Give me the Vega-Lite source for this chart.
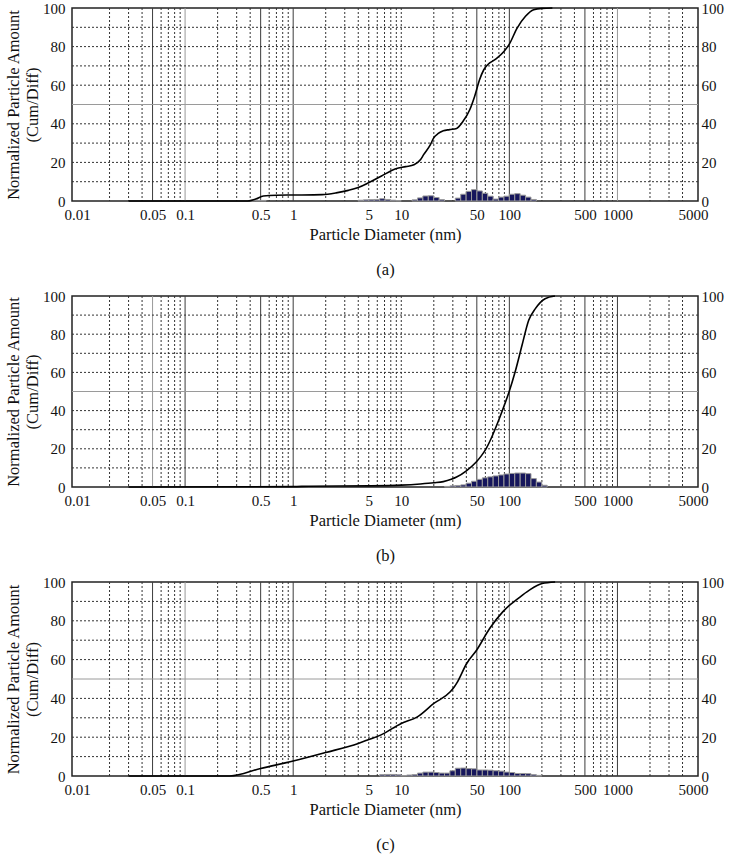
{
  "$schema": "https://vega.github.io/schema/vega-lite/v6.json",
  "padding": {"left": 4, "top": 0, "right": 0, "bottom": 0},
  "background": "white",
  "spacing": 9,
  "config": {
    "view": {"stroke": "#222", "strokeWidth": 1.5},
    "font": "Liberation Serif",
    "axis": {
      "labelFont": "Liberation Serif", "titleFont": "Liberation Serif",
      "labelFontSize": 15, "titleFontSize": 16.5, "titleFontWeight": "normal",
      "labelColor": "#111", "titleColor": "#111",
      "ticks": false, "domain": false, "grid": false
    }
  },
  "datasets": {
    "vgrid_a": [
      {"v": 0.02, "kind": "minor"}, {"v": 0.03, "kind": "minor"}, {"v": 0.04, "kind": "minor"}, {"v": 0.06, "kind": "minor"}, {"v": 0.07, "kind": "minor"}, {"v": 0.08, "kind": "minor"}, {"v": 0.09, "kind": "minor"},
      {"v": 0.2, "kind": "minor"}, {"v": 0.3, "kind": "minor"}, {"v": 0.4, "kind": "minor"}, {"v": 0.6, "kind": "minor"}, {"v": 0.7, "kind": "minor"}, {"v": 0.8, "kind": "minor"}, {"v": 0.9, "kind": "minor"},
      {"v": 2, "kind": "minor"}, {"v": 3, "kind": "minor"}, {"v": 4, "kind": "minor"}, {"v": 5, "kind": "minor"}, {"v": 6, "kind": "minor"}, {"v": 7, "kind": "minor"}, {"v": 8, "kind": "minor"}, {"v": 9, "kind": "minor"}, {"v": 10, "kind": "minor"},
      {"v": 20, "kind": "minor"}, {"v": 30, "kind": "minor"}, {"v": 40, "kind": "minor"}, {"v": 60, "kind": "minor"}, {"v": 70, "kind": "minor"}, {"v": 80, "kind": "minor"}, {"v": 90, "kind": "minor"},
      {"v": 200, "kind": "minor"}, {"v": 300, "kind": "minor"}, {"v": 400, "kind": "minor"}, {"v": 600, "kind": "minor"}, {"v": 700, "kind": "minor"}, {"v": 800, "kind": "minor"}, {"v": 900, "kind": "minor"},
      {"v": 2000, "kind": "minor"}, {"v": 3000, "kind": "minor"}, {"v": 4000, "kind": "minor"},
      {"v": 0.05, "kind": "dark"}, {"v": 0.1, "kind": "light"}, {"v": 0.5, "kind": "dark"}, {"v": 1, "kind": "dark"}, {"v": 50, "kind": "dark"}, {"v": 100, "kind": "dark"}, {"v": 500, "kind": "dark"}, {"v": 1000, "kind": "light"}
    ],
    "vgrid_b": [
      {"v": 0.02, "kind": "minor"}, {"v": 0.03, "kind": "minor"}, {"v": 0.04, "kind": "minor"}, {"v": 0.06, "kind": "minor"}, {"v": 0.07, "kind": "minor"}, {"v": 0.08, "kind": "minor"}, {"v": 0.09, "kind": "minor"},
      {"v": 0.2, "kind": "minor"}, {"v": 0.3, "kind": "minor"}, {"v": 0.4, "kind": "minor"}, {"v": 0.6, "kind": "minor"}, {"v": 0.7, "kind": "minor"}, {"v": 0.8, "kind": "minor"}, {"v": 0.9, "kind": "minor"},
      {"v": 2, "kind": "minor"}, {"v": 3, "kind": "minor"}, {"v": 4, "kind": "minor"}, {"v": 5, "kind": "minor"}, {"v": 6, "kind": "minor"}, {"v": 7, "kind": "minor"}, {"v": 8, "kind": "minor"}, {"v": 9, "kind": "minor"}, {"v": 10, "kind": "minor"},
      {"v": 20, "kind": "minor"}, {"v": 30, "kind": "minor"}, {"v": 40, "kind": "minor"}, {"v": 60, "kind": "minor"}, {"v": 70, "kind": "minor"}, {"v": 80, "kind": "minor"}, {"v": 90, "kind": "minor"},
      {"v": 200, "kind": "minor"}, {"v": 300, "kind": "minor"}, {"v": 400, "kind": "minor"}, {"v": 600, "kind": "minor"}, {"v": 700, "kind": "minor"}, {"v": 800, "kind": "minor"}, {"v": 900, "kind": "minor"},
      {"v": 2000, "kind": "minor"}, {"v": 3000, "kind": "minor"}, {"v": 4000, "kind": "minor"},
      {"v": 0.05, "kind": "light"}, {"v": 0.1, "kind": "dark"}, {"v": 0.5, "kind": "dark"}, {"v": 1, "kind": "dark"}, {"v": 50, "kind": "dark"}, {"v": 100, "kind": "dark"}, {"v": 500, "kind": "dark"}, {"v": 1000, "kind": "dark"}
    ],
    "vgrid_c": [
      {"v": 0.02, "kind": "minor"}, {"v": 0.03, "kind": "minor"}, {"v": 0.04, "kind": "minor"}, {"v": 0.06, "kind": "minor"}, {"v": 0.07, "kind": "minor"}, {"v": 0.08, "kind": "minor"}, {"v": 0.09, "kind": "minor"},
      {"v": 0.2, "kind": "minor"}, {"v": 0.3, "kind": "minor"}, {"v": 0.4, "kind": "minor"}, {"v": 0.6, "kind": "minor"}, {"v": 0.7, "kind": "minor"}, {"v": 0.8, "kind": "minor"}, {"v": 0.9, "kind": "minor"},
      {"v": 2, "kind": "minor"}, {"v": 3, "kind": "minor"}, {"v": 4, "kind": "minor"}, {"v": 5, "kind": "minor"}, {"v": 6, "kind": "minor"}, {"v": 7, "kind": "minor"}, {"v": 8, "kind": "minor"}, {"v": 9, "kind": "minor"}, {"v": 10, "kind": "minor"},
      {"v": 20, "kind": "minor"}, {"v": 30, "kind": "minor"}, {"v": 40, "kind": "minor"}, {"v": 60, "kind": "minor"}, {"v": 70, "kind": "minor"}, {"v": 80, "kind": "minor"}, {"v": 90, "kind": "minor"},
      {"v": 200, "kind": "minor"}, {"v": 300, "kind": "minor"}, {"v": 400, "kind": "minor"}, {"v": 600, "kind": "minor"}, {"v": 700, "kind": "minor"}, {"v": 800, "kind": "minor"}, {"v": 900, "kind": "minor"},
      {"v": 2000, "kind": "minor"}, {"v": 3000, "kind": "minor"}, {"v": 4000, "kind": "minor"},
      {"v": 0.05, "kind": "dark"}, {"v": 0.1, "kind": "light"}, {"v": 0.5, "kind": "dark"}, {"v": 1, "kind": "dark"}, {"v": 50, "kind": "dark"}, {"v": 100, "kind": "light"}, {"v": 500, "kind": "dark"}, {"v": 1000, "kind": "dark"}
    ],
    "hgrid": [
      {"h": 10, "kind": "minor"}, {"h": 20, "kind": "minor"}, {"h": 30, "kind": "minor"}, {"h": 40, "kind": "minor"},
      {"h": 50, "kind": "light"}, {"h": 60, "kind": "minor"}, {"h": 70, "kind": "minor"}, {"h": 80, "kind": "minor"}, {"h": 90, "kind": "minor"}
    ],
    "cum_a": [
      {"d": 0.03, "cum": 0}, {"d": 0.38, "cum": 0}, {"d": 0.45, "cum": 1.0}, {"d": 0.53, "cum": 2.6}, {"d": 0.7, "cum": 3.0},
      {"d": 1.0, "cum": 3.1}, {"d": 1.85, "cum": 3.3}, {"d": 2.5, "cum": 4.2}, {"d": 3.24, "cum": 5.5}, {"d": 4.0, "cum": 7.0},
      {"d": 4.93, "cum": 9.3}, {"d": 6.5, "cum": 12.8}, {"d": 8.9, "cum": 16.7}, {"d": 11, "cum": 17.8}, {"d": 13.1, "cum": 18.8},
      {"d": 15.1, "cum": 21.5}, {"d": 16.1, "cum": 24}, {"d": 18.6, "cum": 29.2}, {"d": 19.9, "cum": 32.6}, {"d": 22, "cum": 35},
      {"d": 24.5, "cum": 36.4}, {"d": 28, "cum": 37}, {"d": 32.5, "cum": 37.6}, {"d": 37.3, "cum": 41.3}, {"d": 43, "cum": 47.3},
      {"d": 47.7, "cum": 54.2}, {"d": 53, "cum": 62.8}, {"d": 58, "cum": 68}, {"d": 63, "cum": 70.6}, {"d": 75.2, "cum": 73.6},
      {"d": 89.5, "cum": 77.6}, {"d": 99.3, "cum": 81}, {"d": 118, "cum": 89.6}, {"d": 141, "cum": 95.7}, {"d": 168, "cum": 99.1},
      {"d": 200, "cum": 99.8}, {"d": 250, "cum": 100}
    ],
    "cum_b": [
      {"d": 0.03, "cum": 0}, {"d": 1.0, "cum": 0.2}, {"d": 1.4, "cum": 0.4}, {"d": 5, "cum": 0.6}, {"d": 10, "cum": 1.0},
      {"d": 15, "cum": 1.6}, {"d": 20, "cum": 2.2}, {"d": 24.5, "cum": 2.8}, {"d": 29, "cum": 4.0}, {"d": 32.5, "cum": 5.2},
      {"d": 40, "cum": 8.5}, {"d": 49.4, "cum": 13.1}, {"d": 55, "cum": 16.3}, {"d": 61, "cum": 20.1}, {"d": 68, "cum": 25.5},
      {"d": 75.2, "cum": 31.4}, {"d": 86.4, "cum": 40.2}, {"d": 99.3, "cum": 49.7}, {"d": 114, "cum": 61}, {"d": 131, "cum": 74.2},
      {"d": 151, "cum": 87.3}, {"d": 174, "cum": 93.4}, {"d": 214, "cum": 98.6}, {"d": 264, "cum": 100}
    ],
    "cum_c": [
      {"d": 0.03, "cum": 0}, {"d": 0.26, "cum": 0}, {"d": 0.5, "cum": 3.9}, {"d": 1.0, "cum": 7.7}, {"d": 2.0, "cum": 12.1},
      {"d": 4.0, "cum": 16.8}, {"d": 5.0, "cum": 18.8}, {"d": 6.5, "cum": 21.2}, {"d": 10, "cum": 27.1}, {"d": 14.1, "cum": 30.5},
      {"d": 20, "cum": 37.4}, {"d": 28.4, "cum": 43.4}, {"d": 31, "cum": 46}, {"d": 32.7, "cum": 48}, {"d": 40.3, "cum": 58},
      {"d": 49.7, "cum": 64.8}, {"d": 65.7, "cum": 76}, {"d": 86.8, "cum": 84.6}, {"d": 100, "cum": 88}, {"d": 115, "cum": 90.6},
      {"d": 152, "cum": 95.7}, {"d": 201, "cum": 99.2}, {"d": 265, "cum": 100}
    ],
    "diff_a": [
      {"lo": 0.398, "hi": 0.447, "val": 0.3}, {"lo": 0.447, "hi": 0.501, "val": 0.3}, {"lo": 0.501, "hi": 0.562, "val": 0.3},
      {"lo": 3.981, "hi": 4.467, "val": 0.4}, {"lo": 4.467, "hi": 5.012, "val": 0.6}, {"lo": 5.012, "hi": 5.623, "val": 0.7},
      {"lo": 5.623, "hi": 6.310, "val": 0.8}, {"lo": 6.310, "hi": 7.079, "val": 1.2}, {"lo": 7.079, "hi": 7.943, "val": 0.8},
      {"lo": 7.943, "hi": 8.913, "val": 0.4}, {"lo": 8.913, "hi": 10.0, "val": 0.2},
      {"lo": 12.59, "hi": 14.13, "val": 0.6}, {"lo": 14.13, "hi": 15.85, "val": 1.6}, {"lo": 15.85, "hi": 17.78, "val": 2.6},
      {"lo": 17.78, "hi": 19.95, "val": 2.7}, {"lo": 19.95, "hi": 22.39, "val": 1.8}, {"lo": 22.39, "hi": 25.12, "val": 0.7},
      {"lo": 31.62, "hi": 35.48, "val": 1.5}, {"lo": 35.48, "hi": 39.81, "val": 3.5}, {"lo": 39.81, "hi": 44.67, "val": 5.0},
      {"lo": 44.67, "hi": 50.12, "val": 5.9}, {"lo": 50.12, "hi": 56.23, "val": 5.2}, {"lo": 56.23, "hi": 63.10, "val": 4.0},
      {"lo": 63.10, "hi": 70.79, "val": 2.5}, {"lo": 70.79, "hi": 79.43, "val": 1.0}, {"lo": 79.43, "hi": 89.13, "val": 2.0},
      {"lo": 89.13, "hi": 100.0, "val": 2.5}, {"lo": 100.0, "hi": 112.2, "val": 3.5}, {"lo": 112.2, "hi": 125.9, "val": 3.8},
      {"lo": 125.9, "hi": 141.3, "val": 3.0}, {"lo": 141.3, "hi": 158.5, "val": 2.0}, {"lo": 158.5, "hi": 177.8, "val": 0.8}
    ],
    "diff_b": [
      {"lo": 25.12, "hi": 28.18, "val": 0.3}, {"lo": 28.18, "hi": 31.62, "val": 0.6}, {"lo": 31.62, "hi": 35.48, "val": 0.8},
      {"lo": 35.48, "hi": 39.81, "val": 1.1}, {"lo": 39.81, "hi": 44.67, "val": 2.0}, {"lo": 44.67, "hi": 50.12, "val": 3.0},
      {"lo": 50.12, "hi": 56.23, "val": 4.0}, {"lo": 56.23, "hi": 63.10, "val": 4.8}, {"lo": 63.10, "hi": 70.79, "val": 5.3},
      {"lo": 70.79, "hi": 79.43, "val": 5.8}, {"lo": 79.43, "hi": 89.13, "val": 6.3}, {"lo": 89.13, "hi": 100.0, "val": 6.8},
      {"lo": 100.0, "hi": 112.2, "val": 7.1}, {"lo": 112.2, "hi": 125.9, "val": 7.3}, {"lo": 125.9, "hi": 141.3, "val": 7.3},
      {"lo": 141.3, "hi": 158.5, "val": 7.0}, {"lo": 158.5, "hi": 177.8, "val": 4.4}, {"lo": 177.8, "hi": 199.5, "val": 2.6},
      {"lo": 199.5, "hi": 223.9, "val": 0.9}
    ],
    "diff_c": [
      {"lo": 6.310, "hi": 7.079, "val": 0.7}, {"lo": 7.079, "hi": 7.943, "val": 0.8}, {"lo": 7.943, "hi": 8.913, "val": 0.8},
      {"lo": 8.913, "hi": 10.0, "val": 0.6}, {"lo": 10.0, "hi": 11.22, "val": 0.2}, {"lo": 11.22, "hi": 12.59, "val": 0.5},
      {"lo": 12.59, "hi": 14.13, "val": 0.7}, {"lo": 14.13, "hi": 15.85, "val": 1.5}, {"lo": 15.85, "hi": 17.78, "val": 2.0},
      {"lo": 17.78, "hi": 19.95, "val": 2.0}, {"lo": 19.95, "hi": 22.39, "val": 1.8}, {"lo": 22.39, "hi": 25.12, "val": 1.5},
      {"lo": 25.12, "hi": 28.18, "val": 1.5}, {"lo": 28.18, "hi": 31.62, "val": 2.7}, {"lo": 31.62, "hi": 35.48, "val": 4.0},
      {"lo": 35.48, "hi": 39.81, "val": 4.1}, {"lo": 39.81, "hi": 44.67, "val": 3.8}, {"lo": 44.67, "hi": 50.12, "val": 3.7},
      {"lo": 50.12, "hi": 56.23, "val": 3.1}, {"lo": 56.23, "hi": 63.10, "val": 3.1}, {"lo": 63.10, "hi": 70.79, "val": 3.0},
      {"lo": 70.79, "hi": 79.43, "val": 2.7}, {"lo": 79.43, "hi": 89.13, "val": 2.5}, {"lo": 89.13, "hi": 100.0, "val": 2.0},
      {"lo": 100.0, "hi": 112.2, "val": 1.8}, {"lo": 112.2, "hi": 125.9, "val": 1.3}, {"lo": 125.9, "hi": 141.3, "val": 1.3},
      {"lo": 141.3, "hi": 158.5, "val": 1.2}, {"lo": 158.5, "hi": 177.8, "val": 0.7}, {"lo": 177.8, "hi": 199.5, "val": 0.3}
    ]
  },
  "vconcat": [
    {
      "width": 626, "height": 193,
      "resolve": {"axis": {"y": "independent"}},
      "layer": [
        {
          "data": {"name": "vgrid_a"},
          "mark": {"type": "rule", "strokeWidth": 1},
          "encoding": {
            "x": {"field": "v", "type": "quantitative", "scale": {"type": "log", "domain": [0.01, 5000], "nice": false}},
            "color": {"field": "kind", "type": "nominal", "scale": {"domain": ["minor", "dark", "light"], "range": ["#333333", "#3c3c3c", "#9a9a9a"]}, "legend": null},
            "strokeDash": {"field": "kind", "type": "nominal", "scale": {"domain": ["minor", "dark", "light"], "range": [[2, 2], [1, 0], [1, 0]]}, "legend": null}
          }
        },
        {
          "data": {"name": "hgrid"},
          "mark": {"type": "rule", "strokeWidth": 1},
          "encoding": {
            "y": {"field": "h", "type": "quantitative", "scale": {"domain": [0, 100], "nice": false},
                  "axis": {"orient": "left", "values": [0, 20, 40, 60, 80, 100], "labelPadding": 7, "title": ["Normalized Particle Amount", "(Cum/Diff)"], "titleLineHeight": 19, "titlePadding": 2}},
            "color": {"field": "kind", "type": "nominal", "legend": null},
            "strokeDash": {"field": "kind", "type": "nominal", "legend": null}
          }
        },
        {
          "data": {"name": "diff_a"},
          "mark": {"type": "bar", "fill": "#16165c", "stroke": "#9a9a9a", "strokeWidth": 1, "orient": "vertical"},
          "encoding": {
            "x": {"field": "lo", "type": "quantitative"},
            "x2": {"field": "hi"},
            "y": {"field": "val", "type": "quantitative", "axis": null},
            "y2": {"datum": 0}
          }
        },
        {
          "data": {"name": "cum_a"},
          "mark": {"type": "line", "color": "#000", "strokeWidth": 1.6, "interpolate": "monotone"},
          "encoding": {
            "x": {"field": "d", "type": "quantitative",
                  "axis": {"orient": "bottom", "values": [0.01, 0.05, 0.1, 0.5, 1, 5, 10, 50, 100, 500, 1000, 5000], "format": "~g", "labelPadding": 6, "labelOverlap": false, "labelFlush": false, "labelBound": false,
                           "title": ["Particle Diameter (nm)", "(a)"], "titleLineHeight": 35, "titlePadding": 4}},
            "y": {"field": "cum", "type": "quantitative", "axis": {"orient": "right", "values": [0, 20, 40, 60, 80, 100], "labelPadding": 3, "title": null}}
          }
        }
      ]
    },
    {
      "width": 626, "height": 191,
      "resolve": {"axis": {"y": "independent"}},
      "layer": [
        {
          "data": {"name": "vgrid_b"},
          "mark": {"type": "rule", "strokeWidth": 1},
          "encoding": {
            "x": {"field": "v", "type": "quantitative", "scale": {"type": "log", "domain": [0.01, 5000], "nice": false}},
            "color": {"field": "kind", "type": "nominal", "scale": {"domain": ["minor", "dark", "light"], "range": ["#333333", "#3c3c3c", "#9a9a9a"]}, "legend": null},
            "strokeDash": {"field": "kind", "type": "nominal", "scale": {"domain": ["minor", "dark", "light"], "range": [[2, 2], [1, 0], [1, 0]]}, "legend": null}
          }
        },
        {
          "data": {"name": "hgrid"},
          "mark": {"type": "rule", "strokeWidth": 1},
          "encoding": {
            "y": {"field": "h", "type": "quantitative", "scale": {"domain": [0, 100], "nice": false},
                  "axis": {"orient": "left", "values": [0, 20, 40, 60, 80, 100], "labelPadding": 7, "title": ["Normalized Particle Amount", "(Cum/Diff)"], "titleLineHeight": 19, "titlePadding": 2}},
            "color": {"field": "kind", "type": "nominal", "legend": null},
            "strokeDash": {"field": "kind", "type": "nominal", "legend": null}
          }
        },
        {
          "data": {"name": "diff_b"},
          "mark": {"type": "bar", "fill": "#16165c", "stroke": "#9a9a9a", "strokeWidth": 1, "orient": "vertical"},
          "encoding": {
            "x": {"field": "lo", "type": "quantitative"},
            "x2": {"field": "hi"},
            "y": {"field": "val", "type": "quantitative", "axis": null},
            "y2": {"datum": 0}
          }
        },
        {
          "data": {"name": "cum_b"},
          "mark": {"type": "line", "color": "#000", "strokeWidth": 1.6, "interpolate": "monotone"},
          "encoding": {
            "x": {"field": "d", "type": "quantitative",
                  "axis": {"orient": "bottom", "values": [0.01, 0.05, 0.1, 0.5, 1, 5, 10, 50, 100, 500, 1000, 5000], "format": "~g", "labelPadding": 6, "labelOverlap": false, "labelFlush": false, "labelBound": false,
                           "title": ["Particle Diameter (nm)", "(b)"], "titleLineHeight": 35, "titlePadding": 4}},
            "y": {"field": "cum", "type": "quantitative", "axis": {"orient": "right", "values": [0, 20, 40, 60, 80, 100], "labelPadding": 3, "title": null}}
          }
        }
      ]
    },
    {
      "width": 626, "height": 194,
      "resolve": {"axis": {"y": "independent"}},
      "layer": [
        {
          "data": {"name": "vgrid_c"},
          "mark": {"type": "rule", "strokeWidth": 1},
          "encoding": {
            "x": {"field": "v", "type": "quantitative", "scale": {"type": "log", "domain": [0.01, 5000], "nice": false}},
            "color": {"field": "kind", "type": "nominal", "scale": {"domain": ["minor", "dark", "light"], "range": ["#333333", "#3c3c3c", "#9a9a9a"]}, "legend": null},
            "strokeDash": {"field": "kind", "type": "nominal", "scale": {"domain": ["minor", "dark", "light"], "range": [[2, 2], [1, 0], [1, 0]]}, "legend": null}
          }
        },
        {
          "data": {"name": "hgrid"},
          "mark": {"type": "rule", "strokeWidth": 1},
          "encoding": {
            "y": {"field": "h", "type": "quantitative", "scale": {"domain": [0, 100], "nice": false},
                  "axis": {"orient": "left", "values": [0, 20, 40, 60, 80, 100], "labelPadding": 7, "title": ["Normalized Particle Amount", "(Cum/Diff)"], "titleLineHeight": 19, "titlePadding": 2}},
            "color": {"field": "kind", "type": "nominal", "legend": null},
            "strokeDash": {"field": "kind", "type": "nominal", "legend": null}
          }
        },
        {
          "data": {"name": "diff_c"},
          "mark": {"type": "bar", "fill": "#16165c", "stroke": "#9a9a9a", "strokeWidth": 1, "orient": "vertical"},
          "encoding": {
            "x": {"field": "lo", "type": "quantitative"},
            "x2": {"field": "hi"},
            "y": {"field": "val", "type": "quantitative", "axis": null},
            "y2": {"datum": 0}
          }
        },
        {
          "data": {"name": "cum_c"},
          "mark": {"type": "line", "color": "#000", "strokeWidth": 1.6, "interpolate": "monotone"},
          "encoding": {
            "x": {"field": "d", "type": "quantitative",
                  "axis": {"orient": "bottom", "values": [0.01, 0.05, 0.1, 0.5, 1, 5, 10, 50, 100, 500, 1000, 5000], "format": "~g", "labelPadding": 6, "labelOverlap": false, "labelFlush": false, "labelBound": false,
                           "title": ["Particle Diameter (nm)", "(c)"], "titleLineHeight": 35, "titlePadding": 4}},
            "y": {"field": "cum", "type": "quantitative", "axis": {"orient": "right", "values": [0, 20, 40, 60, 80, 100], "labelPadding": 3, "title": null}}
          }
        }
      ]
    }
  ]
}
